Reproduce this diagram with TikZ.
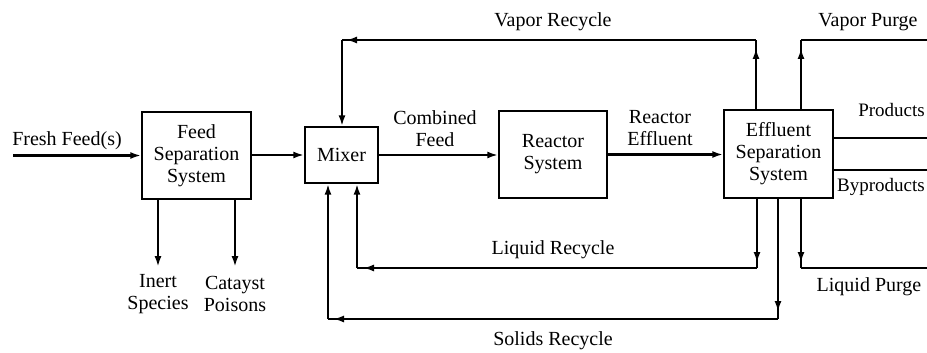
\documentclass[tikz,border=0pt]{standalone}
\usepackage{fontspec}
\setmainfont{Liberation Serif}
\usetikzlibrary{arrows.meta,decorations.markings}
\tikzset{
  box/.style={draw, line width=1.4pt, align=center, inner sep=0pt},
  lbl/.style={align=center, inner sep=0pt},
  outlbl/.style={lbl, anchor=east, font=\fontsize{19}{21}\selectfont},
  flow/.style={line width=2.2pt},
  arr/.style={flow, -{Latex[length=11pt,width=7pt]}},
  midtip/.style={flow, postaction={decorate}, decoration={markings,
     mark=at position -#1 with {\arrow{Latex[length=11pt,width=7pt]}}}},
}
\begin{document}
\begin{tikzpicture}[x=1pt,y=-1pt,font=\fontsize{20}{22}\selectfont]
\useasboundingbox (0,0) rectangle (927,353);
% boxes
\node[box, minimum width=109pt, minimum height=87pt] (feedsep) at (196.5,155.5) {Feed\\Separation\\System};
\node[box, minimum width=73pt, minimum height=56pt] (mixer) at (341.5,155) {Mixer};
\node[box, minimum width=108pt, minimum height=87pt] (reactor) at (553,154.5) {Reactor\\System};
\node[box, minimum width=109pt, minimum height=88pt] (effsep) at (778.5,154) {Effluent\\Separation\\System};

% coordinates
\coordinate (ff) at (13,155.5);
\coordinate (inert) at (158,267);
\coordinate (poison) at (235,267);
\coordinate (vr1) at (756,40);
\coordinate (vr2) at (342,40);
\coordinate (vp1) at (801,40);
\coordinate (vp2) at (927,40);
\coordinate (pr) at (927,138);
\coordinate (bp) at (927,170);
\coordinate (lr1) at (757,268);
\coordinate (lr2) at (357,268);
\coordinate (sr1) at (778,319);
\coordinate (sr2) at (328,319);
\coordinate (lp1) at (801,268);
\coordinate (lp2) at (927,268);

% main flow
\draw[arr] (ff) -- (feedsep.west);
\draw[arr] (feedsep.east |- mixer.west) -- (mixer.west);
\draw[arr] (mixer.east) -- (mixer.east -| reactor.west);
\draw[arr] (reactor.east) -- (reactor.east -| effsep.west);
\draw[arr] (feedsep.south -| inert) -- (inert);
\draw[arr] (feedsep.south -| poison) -- (poison);

% vapor recycle
\draw[midtip=8pt] (effsep.north -| vr1) -- (vr1);
\draw[midtip=4pt] (vr1) -- (vr2);
\draw[arr] (vr2) -- (mixer.north -| vr2);
% vapor purge
\draw[midtip=8pt] (effsep.north -| vp1) -- (vp1);
\draw[flow] (vp1) -- (vp2);
% products
\draw[flow] (effsep.east |- pr) -- (pr);
\draw[flow] (effsep.east |- bp) -- (bp);
% liquid recycle
\draw[midtip=5pt] (effsep.south -| lr1) -- (lr1);
\draw[midtip=6pt] (lr1) -- (lr2);
\draw[arr] (lr2) -- (mixer.south -| lr2);
% solids recycle
\draw[midtip=7pt] (effsep.south -| sr1) -- (sr1);
\draw[midtip=5pt] (sr1) -- (sr2);
\draw[arr] (sr2) -- (mixer.south -| sr2);
% liquid purge
\draw[midtip=5pt] (effsep.south -| lp1) -- (lp1);
\draw[flow] (lp1) -- (lp2);

% labels
\node[lbl] (lff) at (67,141) {Fresh Feed(s)};
\node[lbl] (linert) at (158,294) {Inert\\Species};
\node[lbl] (lpoison) at (235,294) {Catayst\\Poisons};
\node[lbl] (lcf) at (435,129) {Combined\\Feed};
\node[lbl] (lre) at (660,128) {Reactor\\Effluent};
\node[lbl] (lvr) at (553,22) {Vapor Recycle};
\node[lbl] (lvp) at (868,22) {Vapor Purge};
\node[outlbl] (lpr) at (925,110) {Products};
\node[outlbl] (lbp) at (925,187) {Byproducts};
\node[lbl] (llr) at (553,250) {Liquid Recycle};
\node[lbl] (lsr) at (553,341) {Solids Recycle};
\node[lbl] (llp) at (869,287) {Liquid Purge};
\end{tikzpicture}
\end{document}
